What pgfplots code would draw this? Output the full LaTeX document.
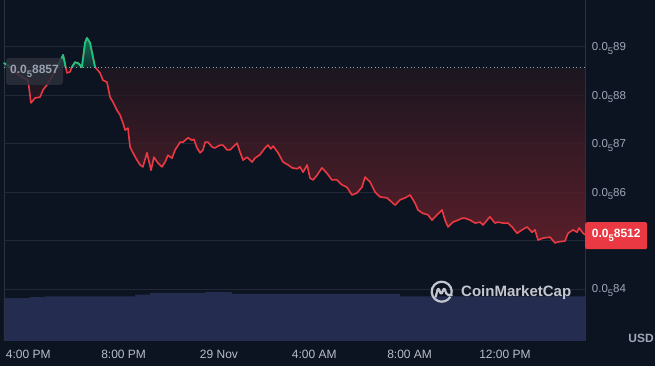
\documentclass[border=0pt]{standalone}
\usepackage{pgfplots}
\usepackage{pgfplotstable}
\pgfplotsset{compat=1.18}
\usepackage{fontspec}
\setmainfont{Liberation Sans}
\newcommand{\sub}[1]{\raisebox{-0.32em}{\fontsize{9.5}{10}\selectfont #1}}
\definecolor{bg}{HTML}{0D1421}
\definecolor{gridc}{HTML}{232836}
\definecolor{axc}{HTML}{2C3140}
\definecolor{tickc}{HTML}{A1A7BB}
\definecolor{xtickc}{HTML}{B8BDC8}
\definecolor{cmcred}{HTML}{EA3943}
\definecolor{cmcgreen}{HTML}{16C784}
\definecolor{volc}{HTML}{242D50}
\definecolor{redtop}{HTML}{12161F}
\definecolor{redbot}{HTML}{6E212C}
\definecolor{greentop}{HTML}{127356}
\definecolor{greenbot}{HTML}{0F2E30}
\definecolor{boxc}{HTML}{2B303C}
\definecolor{boxtext}{HTML}{9AA1B2}
\definecolor{wmark}{HTML}{C3C6CE}
\definecolor{refc}{HTML}{9CA3AF}

\pgfplotstableread{
h v
-1.02 88.66
-0.85 88.62
-0.56 88.48
-0.26 88.37
-0.01 88.31
0.11 87.84
0.28 87.94
0.49 87.96
0.62 88.11
0.78 88.21
1.12 88.48
1.46 88.83
1.62 88.46
1.75 88.48
1.83 88.58
1.96 88.68
2.09 88.66
2.25 88.58
2.38 89.08
2.46 89.18
2.59 89.08
2.80 88.58
3.01 88.46
3.13 88.31
3.30 88.27
3.43 87.96
3.55 87.86
3.72 87.69
3.85 87.59
3.97 87.43
4.06 87.28
4.18 87.32
4.27 86.93
4.39 86.81
4.56 86.66
4.69 86.56
4.81 86.52
4.98 86.81
5.15 86.45
5.27 86.72
5.44 86.60
5.61 86.52
5.74 86.62
5.86 86.76
6.03 86.70
6.16 86.87
6.37 87.03
6.49 87.03
6.70 87.12
6.87 87.07
6.95 87.09
7.08 86.91
7.21 86.81
7.33 86.87
7.42 87.03
7.54 87.03
7.71 86.93
7.83 86.91
8.04 86.97
8.17 86.97
8.34 86.87
8.46 86.87
8.59 86.93
8.76 87.01
8.88 86.83
9.01 86.66
9.18 86.72
9.39 86.62
9.51 86.70
9.72 86.77
9.93 86.91
10.06 86.97
10.18 86.89
10.27 86.95
10.48 86.81
10.69 86.62
10.90 86.56
11.07 86.50
11.28 86.48
11.40 86.52
11.53 86.41
11.70 86.56
11.82 86.29
11.95 86.25
12.12 86.35
12.32 86.50
12.53 86.39
12.74 86.25
12.95 86.25
13.16 86.15
13.37 86.10
13.58 85.94
13.79 85.98
14.00 86.10
14.13 86.31
14.34 86.21
14.55 86.00
14.76 85.90
15.05 85.88
15.26 85.79
15.39 85.73
15.60 85.84
15.81 85.88
16.02 85.94
16.23 85.77
16.35 85.63
16.56 85.56
16.77 85.53
16.94 85.42
17.15 85.53
17.36 85.63
17.49 85.42
17.61 85.28
17.82 85.38
18.03 85.42
18.20 85.46
18.33 85.46
18.54 85.42
18.75 85.36
18.96 85.38
19.08 85.32
19.37 85.49
19.58 85.36
19.71 85.38
19.92 85.36
20.13 85.36
20.30 85.28
20.51 85.15
20.72 85.22
20.93 85.28
21.14 85.17
21.26 85.22
21.39 85.01
21.60 85.05
21.89 85.07
22.10 84.95
22.23 84.97
22.52 84.99
22.65 85.15
22.86 85.22
23.03 85.17
23.11 85.26
23.28 85.15
23.36 85.12
}\pricedata

\pgfplotstableread{
h vol
-1.02 12.6
0.07 12.9
0.70 13.1
4.27 13.1
4.48 13.6
5.11 14.1
7.21 14.1
7.42 14.4
8.25 14.3
8.55 13.8
11.40 13.8
15.60 13.1
23.36 13.1
}\voldata

\begin{document}
\begin{tikzpicture}
\path[use as bounding box, fill=bg] (-4pt,-25pt) rectangle (651pt,341pt);
% volume
\begin{axis}[at={(0pt,0pt)}, anchor=south west, scale only axis,
  width=581pt, height=341pt, xmin=-1.02, xmax=23.36, ymin=0, ymax=100,
  axis lines=none]
\addplot[const plot, fill=volc, draw=none] table[x=h,y=vol]{\voldata} \closedcycle;
\end{axis}
% price
\begin{axis}[at={(0pt,0pt)}, anchor=south west, scale only axis,
  width=581pt, height=341pt, xmin=-1.02, xmax=23.36, ymin=82.926, ymax=89.964,
  clip=false,
  axis line style={draw=none},
  major tick length=0pt, tick style={draw=none},
  xtick={0,4,8,12,16,20},
  xticklabels={4:00 PM,8:00 PM,29 Nov,4:00 AM,8:00 AM,12:00 PM},
  xticklabel style={font=\fontsize{12}{14}\selectfont, text=xtickc, anchor=base, yshift=-18pt},
  ytick={84,85,86,87,88,89},
  yticklabels={0.0\sub{5}84,,0.0\sub{5}86,0.0\sub{5}87,0.0\sub{5}88,0.0\sub{5}89},
  yticklabel pos=right,
  yticklabel style={font=\fontsize{11.5}{13}\selectfont, text=tickc, anchor=base west, inner sep=0pt, xshift=6.7pt, yshift=-4pt},
  ymajorgrids, grid style={gridc, line width=0.8pt},
]
\draw[axc, line width=0.8pt] (rel axis cs:0,0) -- (rel axis cs:0,1);
\draw[axc, line width=0.8pt] (rel axis cs:1,0) -- (rel axis cs:1,1);
% red area between price and reference
\addplot[top color=redtop, bottom color=redbot, fill opacity=0.78, draw=none]
  table[x=h,y=v]{\pricedata} -- (axis cs:23.36,88.57) -- (axis cs:-1.02,88.57) -- cycle;
% green areas above reference
\addplot[top color=greentop, bottom color=greenbot, draw=none]
  coordinates {(-1.02,88.57) (-1.02,88.66) (-0.85,88.62) (-0.75,88.57)} -- cycle;
\addplot[top color=greentop, bottom color=greenbot, draw=none]
  coordinates {(1.21,88.57) (1.46,88.83) (1.57,88.57)} -- cycle;
\addplot[top color=greentop, bottom color=greenbot, draw=none]
  coordinates {(1.82,88.57) (1.83,88.58) (1.96,88.68) (2.09,88.66) (2.25,88.58) (2.38,89.08) (2.46,89.18) (2.59,89.08) (2.80,88.58) (2.82,88.57)} -- cycle;
% price line
\addplot[cmcred, line width=1.6pt, line join=round] table[x=h,y=v]{\pricedata};
\addplot[cmcgreen, line width=1.7pt, line join=round, line cap=round]
  coordinates {(-1.02,88.66) (-0.85,88.62) (-0.75,88.57)};
\addplot[cmcgreen, line width=1.7pt, line join=round, line cap=round]
  coordinates {(1.21,88.57) (1.46,88.83) (1.57,88.57)};
\addplot[cmcgreen, line width=1.7pt, line join=round, line cap=round]
  coordinates {(1.82,88.57) (1.83,88.58) (1.96,88.68) (2.09,88.66) (2.25,88.58) (2.38,89.08) (2.46,89.18) (2.59,89.08) (2.80,88.58) (2.82,88.57)};
\addplot[refc, line width=1pt, dash pattern=on 1pt off 2.6pt] coordinates {(-1.02,88.57) (23.36,88.57)};
\node[fill=boxc, fill opacity=0.85, text opacity=1, rounded corners=3pt, minimum width=57pt, minimum height=27pt, inner sep=0pt, text=boxtext, font=\bfseries\fontsize{12}{14}\selectfont] at (axis cs:0.26,88.49) {0.0\sub{5}8857};
\node[fill=cmcred, rounded corners=2pt, minimum width=62pt, minimum height=27pt, inner sep=0pt, anchor=west, text=white, font=\bfseries\fontsize{12}{14}\selectfont] at (axis cs:23.36,85.10) {0.0\sub{5}8512};
\end{axis}
% USD
\node[text=tickc, font=\bfseries\fontsize{12}{14}\selectfont] at (637pt,3pt) {USD};
% watermark
\begin{scope}[shift={(437.7pt,49.3pt)}]
\draw[wmark, line width=2.2pt] (-20:10pt) arc (-20:330:10pt);
\draw[wmark, line width=2.2pt, line join=round, line cap=round, rounded corners=1.5pt]
  (-6pt,-5pt) -- (-3.5pt,4pt) -- (-0.5pt,-3pt) -- (2.5pt,4pt) -- (5pt,-3pt) -- (10pt,-3.5pt);
\end{scope}
\node[anchor=west, text=wmark, font=\bfseries\fontsize{15}{17}\selectfont, inner sep=0pt] at (457pt,48pt) {CoinMarketCap};
\end{tikzpicture}
\end{document}
